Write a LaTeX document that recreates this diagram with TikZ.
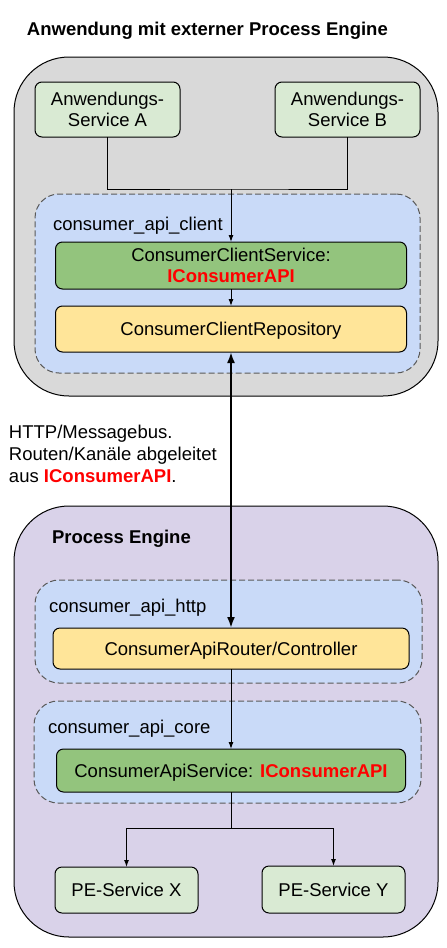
\documentclass[tikz,border=0pt]{standalone}
\usepackage{fontspec}
\setmainfont{Liberation Sans}
\usetikzlibrary{arrows.meta}
\definecolor{cgrey}{HTML}{D9D9D9}
\definecolor{cpurple}{HTML}{D9D2E9}
\definecolor{cblue}{HTML}{C9DAF8}
\definecolor{cltgreen}{HTML}{D9EAD3}
\definecolor{cgreen}{HTML}{93C47D}
\definecolor{cyellow}{HTML}{FFE599}
\definecolor{cred}{HTML}{FF0000}
\definecolor{cdash}{HTML}{595959}
\newcommand\IConsAPI{\textcolor{cred}{\bfseries IConsumerAPI}}
\begin{document}
\begin{tikzpicture}[x=1pt,y=-1pt,
 every node/.style={font=\fontsize{18.5}{21.5}\selectfont, inner sep=0pt, outer sep=0pt},
 container/.style={draw=black, line width=1pt, rounded corners=55pt},
 pkg/.style={draw=cdash, fill=cblue, dash pattern=on 6pt off 3pt, line width=1pt, rounded corners=24pt},
 box/.style={draw=black, line width=1pt, rounded corners=7pt, align=center},
 oneline/.style={text height=13.3pt, text depth=0pt},
 lbl/.style={anchor=base west},
 conn/.style={draw=black, line width=1pt},
 arr/.style={conn, -{Latex[length=7pt,width=5pt]}},
 bi/.style={draw=black, line width=2pt, {Latex[length=11pt,width=8pt]}-{Latex[length=11pt,width=8pt]}},
]
\useasboundingbox[fill=white] (0,0) rectangle (447,948);

\node[lbl, font=\fontsize{18.5}{21.5}\selectfont\bfseries] (title) at (27,35) {Anwendung mit externer Process Engine};

% client container
\node[container, fill=cgrey, minimum width=424pt, minimum height=339pt] (app) at (226,226.5) {};
\node[box, fill=cltgreen, minimum width=145pt, minimum height=55pt] (svcA) at (107.5,109.5) {Anwendungs-\\Service A};
\node[box, fill=cltgreen, minimum width=145pt, minimum height=55pt] (svcB) at (347.5,109.5) {Anwendungs-\\Service B};
\node[pkg, minimum width=385pt, minimum height=179pt] (client) at (227.5,283.5) {};
\node[lbl] (clientlbl) at (53,230) {consumer\_api\_client};
\node[box, fill=cgreen, minimum width=351pt, minimum height=47pt] (ccs) at (231,265.5) {ConsumerClientService:\\\IConsAPI};
\node[box, oneline, fill=cyellow, minimum width=351pt, minimum height=46pt] (ccr) at (231,329) {ConsumerClientRepository};

% transport label
\node[anchor=north west, align=left, font=\fontsize{18.5}{22}\selectfont] (transport) at (9,425.5) {HTTP/Messagebus.\\Routen/Kanäle abgeleitet\\aus \IConsAPI.};

% process engine container
\node[container, fill=cpurple, minimum width=424pt, minimum height=431pt] (pe) at (226,721.5) {};
\node[lbl, font=\fontsize{18.5}{21.5}\selectfont\bfseries] (pelbl) at (52,543) {Process Engine};
\node[pkg, minimum width=387pt, minimum height=103pt] (httppkg) at (228.5,631.5) {};
\node[lbl] (httplbl) at (49,612.5) {consumer\_api\_http};
\node[box, oneline, fill=cyellow, minimum width=356pt, minimum height=41pt] (router) at (231,648.5) {ConsumerApiRouter/Controller};
\node[pkg, minimum width=387pt, minimum height=102pt] (corepkg) at (227.5,752) {};
\node[lbl] (corelbl) at (48,733) {consumer\_api\_core};
\node[box, oneline, fill=cgreen, minimum width=349pt, minimum height=43pt] (apisvc) at (231,770.5) {ConsumerApiService: \IConsAPI};
\node[box, oneline, fill=cltgreen, minimum width=143pt, minimum height=46pt] (peX) at (126.5,890) {PE-Service X};
\node[box, oneline, fill=cltgreen, minimum width=143pt, minimum height=47pt] (peY) at (333.5,889.5) {PE-Service Y};

% connectors
\path (ccs.north) ++(0,-53) coordinate (j1);
\draw[conn] (svcA.south) |- (j1) -| (svcB.south);
\draw[arr] (j1) -- (ccs.north);
\draw[arr] (ccs.south) -- (ccr.north);
\draw[bi] (ccr.south) -- (router.north);
\draw[arr] (router.south) -- (apisvc.north);
\path (apisvc.south) ++(0,36.5) coordinate (j2);
\draw[conn] (apisvc.south) -- (j2);
\draw[arr] (j2) -| (peX.north);
\draw[arr] (j2) -| (peY.north);
\end{tikzpicture}
\end{document}
